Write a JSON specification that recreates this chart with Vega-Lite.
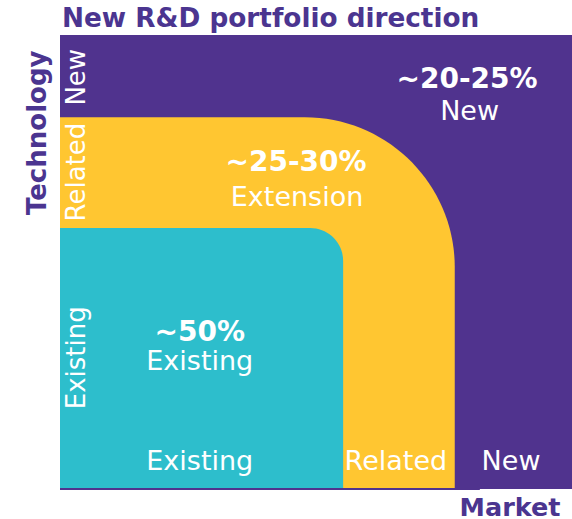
{
  "$schema": "https://vega.github.io/schema/vega-lite/v6.json",
  "width": 512,
  "height": 454,
  "autosize": {"type": "none"},
  "padding": {"left": 60, "top": 35, "right": 0, "bottom": 30},
  "background": "white",
  "config": {"view": {"stroke": null}, "font": "DejaVu Sans"},
  "title": {
    "text": "New R&D portfolio direction",
    "anchor": "start",
    "frame": "group",
    "fontSize": 26.3,
    "fontWeight": "bold",
    "color": "#4B3590",
    "offset": 3,
    "dx": 2,
    "font": "DejaVu Sans"
  },
  "layer": [
    {
      "data": {"values": [{"zone": "New", "x0": 0, "x1": 100, "y0": 0, "y1": 100}]},
      "mark": {"type": "rect", "color": "#50338E"},
      "encoding": {
        "x": {"field": "x0", "type": "quantitative", "scale": {"domain": [0, 100], "nice": false, "zero": false},
          "axis": {"title": "Market", "labels": false, "ticks": false, "domain": false, "grid": false,
            "titleFontSize": 25.5, "titleFontWeight": "bold", "titleColor": "#4B3590", "titleFont": "DejaVu Sans",
            "titleAnchor": "end", "titleAlign": "right", "titleBaseline": "middle", "titleX": 500, "titleY": 18}},
        "x2": {"field": "x1"},
        "y": {"field": "y0", "type": "quantitative", "scale": {"domain": [0, 100], "nice": false, "zero": false},
          "axis": {"title": "Technology", "labels": false, "ticks": false, "domain": false, "grid": false,
            "titleFontSize": 26, "titleFontWeight": "bold", "titleColor": "#4B3590", "titleFont": "DejaVu Sans",
            "titleAngle": -90, "titleAlign": "right", "titleBaseline": "middle", "titleX": -23, "titleY": 15}},
        "y2": {"field": "y1"}
      }
    },
    {
      "data": {"values": [{"zone": "Related", "x0": 0, "x1": 77.1, "y0": 0, "y1": 81.9}]},
      "mark": {"type": "rect", "color": "#FFC631", "cornerRadiusTopRight": 150},
      "encoding": {
        "x": {"field": "x0", "type": "quantitative"},
        "x2": {"field": "x1"},
        "y": {"field": "y0", "type": "quantitative"},
        "y2": {"field": "y1"}
      }
    },
    {
      "data": {"values": [{"zone": "Existing", "x0": 0, "x1": 55.3, "y0": 0, "y1": 57.5}]},
      "mark": {"type": "rect", "color": "#2DBECC", "cornerRadiusTopRight": 33},
      "encoding": {
        "x": {"field": "x0", "type": "quantitative"},
        "x2": {"field": "x1"},
        "y": {"field": "y0", "type": "quantitative"},
        "y2": {"field": "y1"}
      }
    },
    {
      "data": {"values": [{"x0": 0, "x1": 82, "y": 0}]},
      "mark": {"type": "rule", "color": "#50338E", "strokeWidth": 2},
      "encoding": {
        "x": {"field": "x0", "type": "quantitative"},
        "x2": {"field": "x1"},
        "y": {"field": "y", "type": "quantitative"}
      }
    },
    {
      "data": {"values": [
        {"label": "~20-25%", "x": 79.5, "y": 90.1},
        {"label": "~25-30%", "x": 46.1, "y": 71.8},
        {"label": "~50%", "x": 27.3, "y": 34.4}
      ]},
      "mark": {"type": "text", "color": "white", "fontSize": 28, "fontWeight": "bold", "baseline": "middle", "align": "center"},
      "encoding": {
        "x": {"field": "x", "type": "quantitative"},
        "y": {"field": "y", "type": "quantitative"},
        "text": {"field": "label"}
      }
    },
    {
      "data": {"values": [
        {"label": "New", "x": 80, "y": 83.0},
        {"label": "Extension", "x": 46.3, "y": 64.1},
        {"label": "Existing", "x": 27.3, "y": 28.0},
        {"label": "Existing", "x": 27.3, "y": 5.9},
        {"label": "Related", "x": 65.6, "y": 5.9},
        {"label": "New", "x": 88.1, "y": 5.9}
      ]},
      "mark": {"type": "text", "color": "white", "fontSize": 27, "baseline": "middle", "align": "center"},
      "encoding": {
        "x": {"field": "x", "type": "quantitative"},
        "y": {"field": "y", "type": "quantitative"},
        "text": {"field": "label"}
      }
    },
    {
      "data": {"values": [
        {"label": "New", "x": 3.3, "y": 90.7},
        {"label": "Related", "x": 3.3, "y": 69.8},
        {"label": "Existing", "x": 3.3, "y": 28.9}
      ]},
      "mark": {"type": "text", "color": "white", "fontSize": 26, "angle": 270, "baseline": "middle", "align": "center"},
      "encoding": {
        "x": {"field": "x", "type": "quantitative"},
        "y": {"field": "y", "type": "quantitative"},
        "text": {"field": "label"}
      }
    }
  ]
}
